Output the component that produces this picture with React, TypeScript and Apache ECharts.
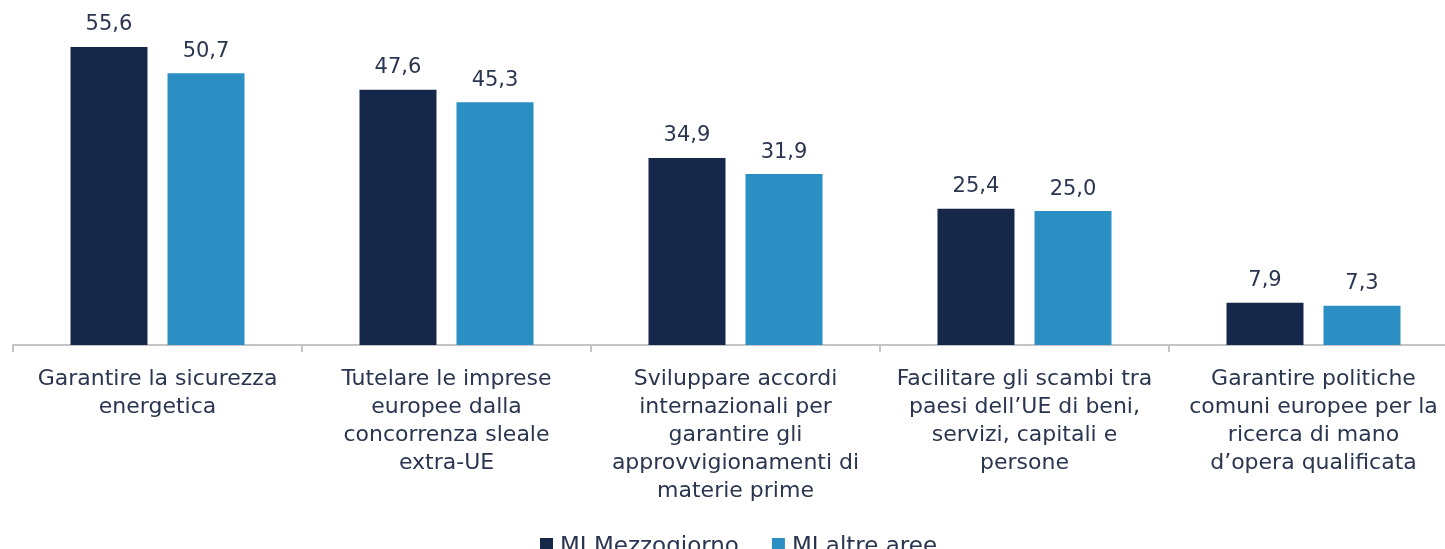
import React, { useEffect, useRef } from "react";
import * as echarts from "echarts";

const categories = [
  "Garantire la sicurezza\nenergetica",
  "Tutelare le imprese\neuropee dalla\nconcorrenza sleale\nextra-UE",
  "Sviluppare accordi\ninternazionali per\ngarantire gli\napprovvigionamenti di\nmaterie prime",
  "Facilitare gli scambi tra\npaesi dell’UE di beni,\nservizi, capitali e\npersone",
  "Garantire politiche\ncomuni europee per la\nricerca di mano\nd’opera qualificata",
];
const mezzogiorno = [55.6, 47.6, 34.9, 25.4, 7.9];
const altreAree = [50.7, 45.3, 31.9, 25.0, 7.3];
const seriesNames = ["MI Mezzogiorno", "MI altre aree"];

const FONT = "'DejaVu Sans', sans-serif";
const TEXT = "#2a3550";

export default function App() {
  const ref = useRef<HTMLDivElement>(null);
  useEffect(() => {
    if (!ref.current) return;
    const chart = echarts.init(ref.current, null, { renderer: "svg" });
    const fmt = (p: any) => Number(p.value).toFixed(1).replace(".", ",");
    chart.setOption({
      animation: false,
      textStyle: { fontFamily: FONT },
      grid: { left: 13, right: 0, top: 23.4, bottom: 549 - 345 },
      legend: {
        data: seriesNames,
        top: 528,
        left: 535,
        itemWidth: 13,
        itemHeight: 13,
        itemGap: 33,
        icon: "rect",
        textStyle: { fontFamily: FONT, fontSize: 23, color: TEXT, padding: [0, 0, 0, 2] },
      },
      xAxis: {
        type: "category",
        data: categories,
        axisLine: { lineStyle: { color: "#c4c4c4", width: 2 } },
        axisTick: { show: true, length: 7, lineStyle: { color: "#c4c4c4", width: 2 } },
        axisLabel: {
          interval: 0,
          fontFamily: FONT,
          fontSize: 22,
          lineHeight: 28,
          color: TEXT,
          margin: 18,
          align: "center",
        },
      },
      yAxis: {
        type: "value",
        min: 0,
        max: 60,
        show: false,
        splitLine: { show: false },
      },
      series: [
        {
          name: seriesNames[0],
          type: "bar",
          data: mezzogiorno,
          barWidth: 77,
          barGap: "26%",
          itemStyle: { color: "#16284a" },
          label: { show: true, position: "top", distance: 13, formatter: fmt, fontFamily: FONT, fontSize: 21, color: TEXT },
        },
        {
          name: seriesNames[1],
          type: "bar",
          data: altreAree,
          barWidth: 77,
          barGap: "26%",
          itemStyle: { color: "#2b8fc3" },
          label: { show: true, position: "top", distance: 13, formatter: fmt, fontFamily: FONT, fontSize: 21, color: TEXT },
        },
      ],
    });
    return () => chart.dispose();
  }, []);
  return (
    <div
      ref={ref}
      style={{ position: "fixed", left: 0, top: 0, width: 1458, height: 549 }}
    />
  );
}
